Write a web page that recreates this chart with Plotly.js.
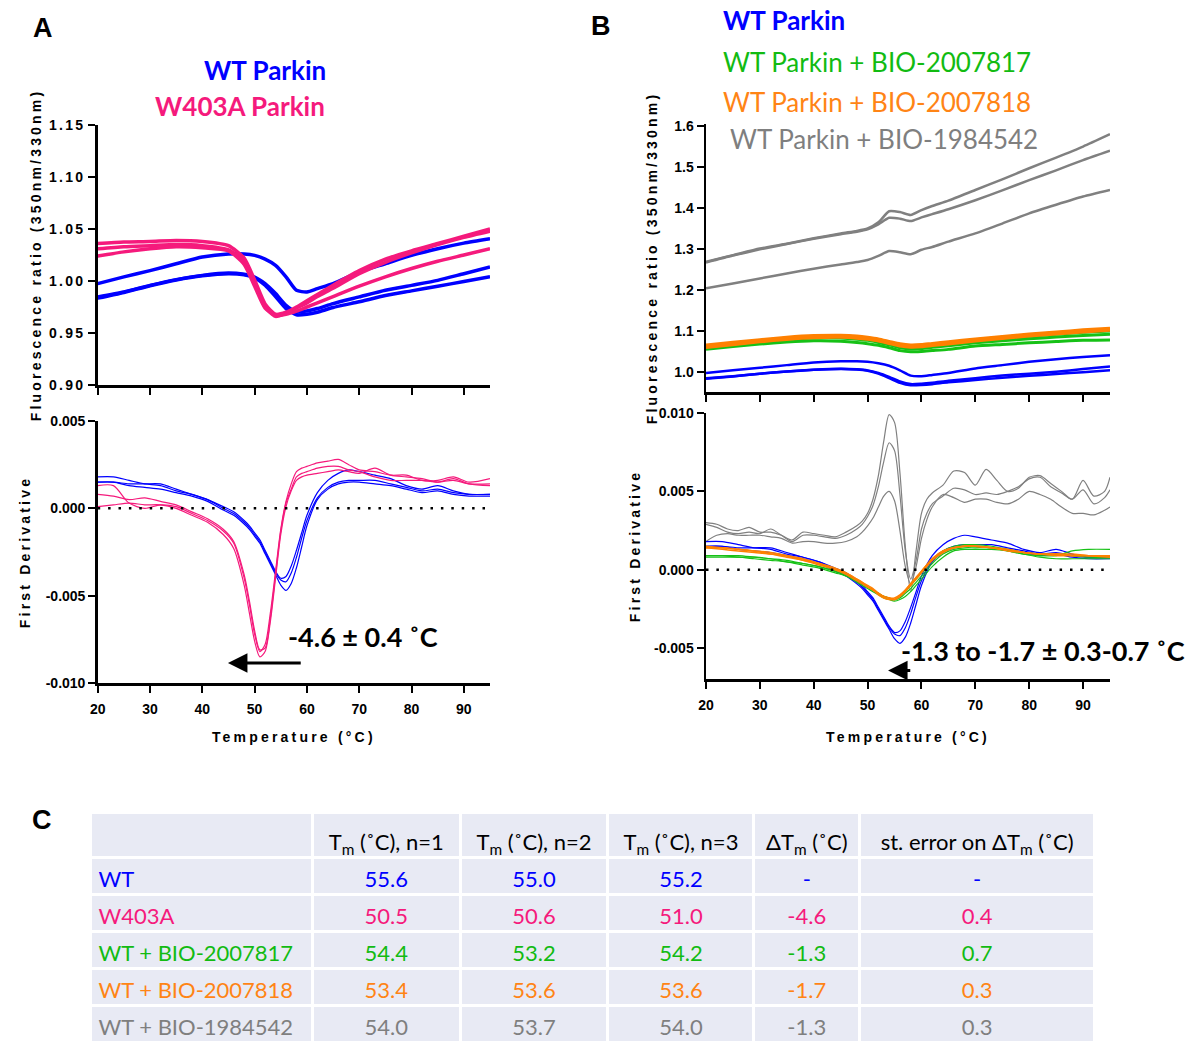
<!DOCTYPE html>
<html>
<head>
<meta charset="utf-8">
<script src="https://cdn.plot.ly/plotly-3.0.1.min.js"></script>
<style>
  html, body { margin: 0; padding: 0; background: #fff; overflow: hidden; }
  #chart { width: 1189px; height: 1042px; }
  .xtick text, .ytick text { letter-spacing: 2.3px; }
  [class^="g-x"] text, [class^="g-y"] text { letter-spacing: 3.2px; }
</style>
</head>
<body>
<div id="chart"></div>
<script>
// ---------------- DATA ----------------
// Temperature grids (°C)
const tTop  = [20,25,30,35,40,45,48,50,52,54,56,58,60,62,65,70,75,80,85,90,95];
const tDer  = [20,23,26,29,32,35,38,41,44,46,48,49,50,51,52,53,54,55,56,57,58,59,60,62,64,66,68,70,73,76,79,82,85,88,91,95];
const tGray = [20,22,24,26,28,30,32,34,36,38,40,42,44,46,48,49,50,51,52,53,54,55,56,57,58,59,60,61,62,64,66,68,70,72,74,76,78,80,82,84,86,88,90,92,94,95];

// Fluorescence ratio (350nm/330nm)
const wtRatio1 = [0.9975,1.004,1.010,1.0166,1.023,1.026,1.026,1.0246,1.021,1.015,1.004,0.991,0.9895,0.9927,0.9974,1.0086,1.0166,1.0246,1.031,1.0364,1.0406];
const wtRatio2 = [0.9847,0.9895,0.9958,1.0013,1.0054,1.0077,1.0064,1.0038,0.9974,0.9879,0.9767,0.9703,0.9712,0.9735,0.9783,0.9847,0.9911,0.9958,1.0006,1.007,1.0134];
const wtRatio3 = [0.9835,0.989,0.9955,1.001,1.005,1.007,1.006,1.003,0.996,0.985,0.9735,0.9675,0.968,0.970,0.9745,0.980,0.986,0.9905,0.995,0.9995,1.004];
const w403Ratio1 = [1.036,1.0375,1.038,1.039,1.038,1.034,1.022,1.001,0.978,0.968,0.970,0.975,0.981,0.987,0.996,1.010,1.021,1.029,1.036,1.043,1.050];
const w403Ratio2 = [1.031,1.033,1.034,1.035,1.034,1.030,1.019,0.998,0.975,0.966,0.969,0.974,0.979,0.985,0.993,1.007,1.018,1.027,1.035,1.042,1.048];
const w403Ratio3 = [1.024,1.028,1.031,1.033,1.032,1.029,1.016,0.995,0.974,0.967,0.968,0.971,0.975,0.979,0.985,0.995,1.004,1.012,1.019,1.025,1.031];
const b817Ratio1 = [1.055,1.062,1.068,1.073,1.076,1.075,1.072,1.069,1.065,1.059,1.052,1.049,1.050,1.052,1.055,1.063,1.067,1.071,1.074,1.077,1.078];
const b817Ratio2 = [1.060,1.067,1.073,1.079,1.083,1.083,1.080,1.077,1.072,1.066,1.059,1.056,1.057,1.060,1.064,1.071,1.076,1.081,1.085,1.089,1.092];
const b817Ratio3 = [1.062,1.069,1.075,1.081,1.085,1.086,1.083,1.080,1.075,1.069,1.062,1.059,1.060,1.063,1.068,1.075,1.081,1.087,1.092,1.097,1.100];
const b818Ratio1 = [1.065,1.072,1.078,1.084,1.088,1.089,1.087,1.084,1.080,1.074,1.068,1.065,1.066,1.069,1.073,1.080,1.086,1.092,1.097,1.102,1.106];
const b818Ratio2 = [1.062,1.069,1.076,1.082,1.086,1.087,1.085,1.082,1.078,1.072,1.066,1.063,1.064,1.067,1.071,1.078,1.084,1.090,1.095,1.100,1.104];
const b818Ratio3 = [1.060,1.067,1.074,1.080,1.084,1.085,1.083,1.080,1.076,1.070,1.064,1.061,1.062,1.065,1.069,1.076,1.082,1.088,1.093,1.098,1.102];
const b1984Ratio1 = [1.269,1.285,1.301,1.313,1.326,1.338,1.344,1.350,1.365,1.392,1.390,1.383,1.395,1.405,1.418,1.444,1.470,1.497,1.523,1.550,1.580];
const b1984Ratio2 = [1.267,1.284,1.299,1.312,1.325,1.336,1.342,1.348,1.360,1.376,1.374,1.368,1.377,1.385,1.397,1.419,1.443,1.468,1.492,1.517,1.540];
const b1984Ratio3 = [1.204,1.216,1.228,1.240,1.252,1.262,1.268,1.273,1.283,1.295,1.292,1.287,1.298,1.305,1.318,1.338,1.362,1.387,1.408,1.428,1.444];

// First derivative
const wtDeriv1 = [0.0018,0.0018,0.0016,0.0014,0.0013,0.0010,0.0008,0.0005,0.0001,-0.0002,-0.0007,-0.0010,-0.0014,-0.0018,-0.0024,-0.0030,-0.0036,-0.0040,-0.0039,-0.0033,-0.0024,-0.0014,-0.0004,0.0009,0.0016,0.0020,0.0022,0.0021,0.0019,0.0017,0.0013,0.0011,0.0013,0.0010,0.0008,0.0008];
const wtDeriv2 = [0.0015,0.0015,0.0014,0.0014,0.0014,0.0011,0.0008,0.0005,0.0000,-0.0003,-0.0008,-0.0011,-0.0015,-0.0019,-0.0025,-0.0031,-0.0037,-0.0041,-0.0042,-0.0037,-0.0028,-0.0017,-0.0007,0.0006,0.0012,0.0015,0.0016,0.0016,0.0016,0.0014,0.0012,0.0010,0.0011,0.0009,0.0008,0.0008];
const wtDeriv3 = [0.0015,0.0015,0.0013,0.0012,0.0011,0.0009,0.0007,0.0004,-0.0001,-0.0004,-0.0009,-0.0012,-0.0016,-0.0020,-0.0026,-0.0032,-0.0038,-0.0044,-0.0047,-0.0043,-0.0034,-0.0022,-0.0010,0.0005,0.0011,0.0014,0.0015,0.0015,0.0014,0.0013,0.0011,0.0009,0.0010,0.0008,0.0007,0.0007];
const w403Deriv1 = [0.0013,0.0013,0.0003,0.0000,0.0002,0.0001,-0.0003,-0.0007,-0.0013,-0.0020,-0.0040,-0.0055,-0.0072,-0.0082,-0.0078,-0.0060,-0.0036,-0.0012,0.0004,0.0014,0.0021,0.0023,0.0024,0.0026,0.0027,0.0028,0.0025,0.0022,0.0021,0.0019,0.0019,0.0016,0.0016,0.0018,0.0015,0.0017];
const w403Deriv2 = [0.0008,0.0007,0.0005,0.0006,0.0004,0.0002,-0.0002,-0.0006,-0.0012,-0.0019,-0.0038,-0.0053,-0.0070,-0.0081,-0.0080,-0.0063,-0.0038,-0.0013,0.0003,0.0011,0.0018,0.0020,0.0021,0.0023,0.0024,0.0024,0.0022,0.0021,0.0018,0.0016,0.0016,0.0016,0.0015,0.0016,0.0014,0.0014];
const w403Deriv3 = [0.0001,0.0002,0.0003,0.0002,0.0002,0.0000,-0.0004,-0.0008,-0.0015,-0.0023,-0.0044,-0.0060,-0.0076,-0.0085,-0.0082,-0.0065,-0.0040,-0.0015,0.0001,0.0010,0.0016,0.0018,0.0019,0.0020,0.0021,0.0022,0.0021,0.0020,0.0023,0.0019,0.0018,0.0017,0.0015,0.0017,0.0014,0.0013];
const b817Deriv1 = [0.0009,0.0009,0.0009,0.0008,0.0007,0.0006,0.0004,0.0002,-0.0001,-0.0004,-0.0007,-0.0009,-0.0011,-0.0013,-0.0015,-0.0017,-0.0018,-0.0019,-0.0018,-0.0015,-0.0012,-0.0008,-0.0004,0.0004,0.0010,0.0013,0.0014,0.0014,0.0014,0.0012,0.0010,0.0009,0.0009,0.0012,0.0013,0.0013];
const b817Deriv2 = [0.0008,0.0008,0.0008,0.0007,0.0006,0.0005,0.0003,0.0001,-0.0002,-0.0004,-0.0008,-0.0010,-0.0012,-0.0014,-0.0016,-0.0018,-0.0019,-0.0020,-0.0019,-0.0017,-0.0014,-0.0010,-0.0006,0.0002,0.0008,0.0012,0.0013,0.0013,0.0013,0.0012,0.0010,0.0008,0.0007,0.0007,0.0007,0.0007];
const b817Deriv3 = [0.0009,0.0009,0.0008,0.0008,0.0007,0.0005,0.0004,0.0002,-0.0001,-0.0003,-0.0007,-0.0009,-0.0011,-0.0013,-0.0015,-0.0017,-0.0018,-0.0019,-0.0017,-0.0014,-0.0010,-0.0006,-0.0002,0.0006,0.0012,0.0015,0.0016,0.0016,0.0015,0.0013,0.0011,0.0010,0.0010,0.0009,0.0008,0.0008];
const b818Deriv1 = [0.0015,0.0014,0.0013,0.0012,0.0011,0.0009,0.0007,0.0004,0.0001,-0.0002,-0.0006,-0.0008,-0.0010,-0.0012,-0.0015,-0.0017,-0.0018,-0.0018,-0.0016,-0.0013,-0.0009,-0.0005,-0.0001,0.0007,0.0012,0.0014,0.0015,0.0015,0.0014,0.0013,0.0011,0.0010,0.0010,0.0010,0.0009,0.0009];
const b818Deriv2 = [0.0014,0.0014,0.0013,0.0012,0.0010,0.0009,0.0006,0.0004,0.0000,-0.0002,-0.0006,-0.0008,-0.0011,-0.0013,-0.0015,-0.0017,-0.0018,-0.0019,-0.0017,-0.0014,-0.0010,-0.0006,-0.0002,0.0006,0.0011,0.0014,0.0015,0.0015,0.0014,0.0013,0.0011,0.0010,0.0009,0.0009,0.0009,0.0008];
const b818Deriv3 = [0.0014,0.0013,0.0012,0.0011,0.0010,0.0008,0.0006,0.0003,0.0000,-0.0003,-0.0007,-0.0009,-0.0011,-0.0013,-0.0016,-0.0018,-0.0019,-0.0019,-0.0017,-0.0013,-0.0009,-0.0005,-0.0001,0.0007,0.0012,0.0014,0.0015,0.0015,0.0014,0.0012,0.0011,0.0010,0.0010,0.0009,0.0009,0.0009];
const b1984Deriv1 = [0.0030,0.0029,0.0026,0.0025,0.0027,0.0024,0.0024,0.0022,0.0019,0.0024,0.0023,0.0022,0.0021,0.0024,0.0028,0.0031,0.0036,0.0045,0.0060,0.0082,0.0099,0.0094,0.0062,0.0015,-0.0014,0.0012,0.0036,0.0045,0.0049,0.0054,0.0063,0.0062,0.0054,0.0064,0.0057,0.0050,0.0052,0.0059,0.0060,0.0055,0.0050,0.0045,0.0057,0.0047,0.0050,0.0059];
const b1984Deriv2 = [0.0029,0.0027,0.0024,0.0023,0.0024,0.0023,0.0026,0.0022,0.0018,0.0022,0.0022,0.0021,0.0020,0.0022,0.0026,0.0029,0.0034,0.0041,0.0053,0.0069,0.0081,0.0076,0.0048,0.0012,-0.0006,0.0006,0.0026,0.0036,0.0042,0.0047,0.0052,0.0051,0.0048,0.0049,0.0048,0.0050,0.0053,0.0058,0.0059,0.0053,0.0049,0.0045,0.0051,0.0042,0.0046,0.0051];
const b1984Deriv3 = [0.0018,0.0022,0.0023,0.0022,0.0022,0.0022,0.0021,0.0020,0.0017,0.0018,0.0018,0.0017,0.0017,0.0018,0.0021,0.0024,0.0028,0.0033,0.0040,0.0047,0.0050,0.0044,0.0025,0.0002,-0.0009,0.0002,0.0020,0.0032,0.0040,0.0048,0.0046,0.0043,0.0045,0.0045,0.0043,0.0042,0.0045,0.0050,0.0048,0.0045,0.0040,0.0036,0.0036,0.0035,0.0038,0.0040];

// Axis ticks
const xTicks = [20,30,40,50,60,70,80,90];
const aRatioTicks = [0.90,0.95,1.00,1.05,1.10,1.15];
const bRatioTicks = [1.0,1.1,1.2,1.3,1.4,1.5,1.6];
const aDerivTicks = [-0.010,-0.005,0.000,0.005];
const aDerivLabels = ["-0.010","-0.005","0.000","0.005"];
const bDerivTicks = [-0.005,0.000,0.005,0.010];
const bDerivLabels = ["-0.005","0.000","0.005","0.010"];
const zeroLevel = 0;

// Table (panel C)
const tableHeader = ["", "T<sub>m</sub> (˚C), n=1", "T<sub>m</sub> (˚C), n=2", "T<sub>m</sub> (˚C), n=3", "ΔT<sub>m</sub> (˚C)", "st. error on ΔT<sub>m</sub> (˚C)"];
const sampleNames = ["WT", "W403A", "WT + BIO-2007817", "WT + BIO-2007818", "WT + BIO-1984542"];
const tmRun1 = ["55.6", "50.5", "54.4", "53.4", "54.0"];
const tmRun2 = ["55.0", "50.6", "53.2", "53.6", "53.7"];
const tmRun3 = ["55.2", "51.0", "54.2", "53.6", "54.0"];
const deltaTm = ["-", "-4.6", "-1.3", "-1.7", "-1.3"];
const seDeltaTm = ["-", "0.4", "0.7", "0.3", "0.3"];

// ---------------- STYLE ----------------
const BLUE = "#0000FF", PINK = "#F51A7C", GREEN = "#16C116", ORANGE = "#FF8000", GRAY = "#808080";
const TXT_GREEN = "#12BB12", TXT_ORANGE = "#FF8415", TXT_GRAY = "#7F7F7F";
const rowColors = [BLUE, PINK, TXT_GREEN, TXT_ORANGE, TXT_GRAY];
const W = 1189, H = 1042;
const px = v => v / W, py = v => 1 - v / H;

function line(x, y, color, width, xa, ya, smooth) {
  return { type: "scatter", mode: "lines", x: x, y: y, xaxis: xa, yaxis: ya,
    line: { color: color, width: width, shape: "spline", smoothing: smooth },
    hoverinfo: "skip", showlegend: false };
}

const traces = [
  // Panel A top
  line(tTop, wtRatio1, BLUE, 3.5, "x", "y", 0.6),
  line(tTop, wtRatio2, BLUE, 3.5, "x", "y", 0.6),
  line(tTop, wtRatio3, BLUE, 3.5, "x", "y", 0.6),
  line(tTop, w403Ratio1, PINK, 3.5, "x", "y", 0.6),
  line(tTop, w403Ratio2, PINK, 3.5, "x", "y", 0.6),
  line(tTop, w403Ratio3, PINK, 3.5, "x", "y", 0.6),
  // Panel A bottom
  line(tDer, wtDeriv1, BLUE, 1.2, "x2", "y2", 0.8),
  line(tDer, wtDeriv2, BLUE, 1.2, "x2", "y2", 0.8),
  line(tDer, wtDeriv3, BLUE, 1.2, "x2", "y2", 0.8),
  line(tDer, w403Deriv1, PINK, 1.2, "x2", "y2", 0.8),
  line(tDer, w403Deriv2, PINK, 1.2, "x2", "y2", 0.8),
  line(tDer, w403Deriv3, PINK, 1.2, "x2", "y2", 0.8),
  // Panel B top
  line(tTop, b1984Ratio1, GRAY, 2.5, "x3", "y3", 0.6),
  line(tTop, b1984Ratio2, GRAY, 2.5, "x3", "y3", 0.6),
  line(tTop, b1984Ratio3, GRAY, 2.5, "x3", "y3", 0.6),
  line(tTop, wtRatio1, BLUE, 2.5, "x3", "y3", 0.6),
  line(tTop, wtRatio2, BLUE, 2.5, "x3", "y3", 0.6),
  line(tTop, wtRatio3, BLUE, 2.5, "x3", "y3", 0.6),
  line(tTop, b817Ratio1, GREEN, 3, "x3", "y3", 0.6),
  line(tTop, b817Ratio2, GREEN, 3, "x3", "y3", 0.6),
  line(tTop, b817Ratio3, GREEN, 3, "x3", "y3", 0.6),
  line(tTop, b818Ratio1, ORANGE, 3.5, "x3", "y3", 0.6),
  line(tTop, b818Ratio2, ORANGE, 3.5, "x3", "y3", 0.6),
  line(tTop, b818Ratio3, ORANGE, 3.5, "x3", "y3", 0.6),
  // Panel B bottom
  line(tGray, b1984Deriv1, GRAY, 1.2, "x4", "y4", 0.8),
  line(tGray, b1984Deriv2, GRAY, 1.2, "x4", "y4", 0.8),
  line(tGray, b1984Deriv3, GRAY, 1.2, "x4", "y4", 0.8),
  line(tDer, wtDeriv1, BLUE, 1.2, "x4", "y4", 0.8),
  line(tDer, wtDeriv2, BLUE, 1.2, "x4", "y4", 0.8),
  line(tDer, wtDeriv3, BLUE, 1.2, "x4", "y4", 0.8),
  line(tDer, b817Deriv1, GREEN, 1.2, "x4", "y4", 0.8),
  line(tDer, b817Deriv2, GREEN, 1.2, "x4", "y4", 0.8),
  line(tDer, b817Deriv3, GREEN, 1.2, "x4", "y4", 0.8),
  line(tDer, b818Deriv1, ORANGE, 1.5, "x4", "y4", 0.8),
  line(tDer, b818Deriv2, ORANGE, 1.5, "x4", "y4", 0.8),
  line(tDer, b818Deriv3, ORANGE, 1.5, "x4", "y4", 0.8),
  // Panel C table
  {
    type: "table",
    domain: { x: [px(90.5), px(1095)], y: [0, py(812)] },
    columnwidth: [222, 148, 148, 146, 106, 235],
    header: {
      values: tableHeader,
      align: ["left", "center", "center", "center", "center", "center"],
      height: 44,
      fill: { color: "#E8EAF4" },
      line: { color: "#FFFFFF", width: 3 },
      font: { family: "Lato, 'Open Sans', sans-serif", size: 22, color: "#000000" }
    },
    cells: {
      values: [sampleNames, tmRun1, tmRun2, tmRun3, deltaTm, seDeltaTm],
      align: ["left", "center", "center", "center", "center", "center"],
      height: 37,
      fill: { color: "#E8EAF4" },
      line: { color: "#FFFFFF", width: 3 },
      font: { family: "Lato, 'Open Sans', sans-serif", size: 22,
              color: [rowColors, rowColors, rowColors, rowColors, rowColors, rowColors] }
    }
  }
];

const tickFont = { family: "'Liberation Sans', Arial, sans-serif", size: 14, color: "#000", weight: 700 };
const titleFont = { family: "'Liberation Sans', Arial, sans-serif", size: 14, color: "#000", weight: 700 };
function axisBase(extra) {
  return Object.assign({
    showgrid: false, zeroline: false, showline: true, linecolor: "#000", linewidth: 2.5,
    ticks: "outside", ticklen: 7, tickwidth: 2, tickcolor: "#000", tickfont: tickFont,
    fixedrange: true
  }, extra);
}

const layout = {
  width: W, height: H,
  margin: { l: 0, r: 0, t: 0, b: 0, pad: 0 },
  paper_bgcolor: "#FFFFFF", plot_bgcolor: "rgba(0,0,0,0)",
  showlegend: false,
  xaxis: axisBase({ domain: [px(97.7), px(490)], range: [20, 95], tickvals: xTicks, showticklabels: false, anchor: "y" }),
  yaxis: axisBase({ domain: [py(385), py(125)], range: [0.90, 1.15], tickvals: aRatioTicks, tickformat: ".2f", anchor: "x",
    title: { text: "Fluorescence ratio (350nm/330nm)", font: titleFont, standoff: 4 } }),
  xaxis2: axisBase({ domain: [px(97.7), px(490)], range: [20, 95], tickvals: xTicks, anchor: "y2", ticklabelstandoff: 5,
    title: { text: "Temperature (°C)", font: titleFont, standoff: 16 } }),
  yaxis2: axisBase({ domain: [py(683), py(421)], range: [-0.010, 0.005], tickvals: aDerivTicks, ticktext: aDerivLabels, anchor: "x2",
    title: { text: "First Derivative", font: titleFont, standoff: 12 } }),
  xaxis3: axisBase({ domain: [px(706), px(1110)], range: [20, 95], tickvals: xTicks, showticklabels: false, anchor: "y3" }),
  yaxis3: axisBase({ domain: [py(392), py(124)], range: [0.951, 1.605], tickvals: bRatioTicks, tickformat: ".1f", anchor: "x3",
    title: { text: "Fluorescence ratio (350nm/330nm)", font: titleFont, standoff: 14 } }),
  xaxis4: axisBase({ domain: [px(706), px(1110)], range: [20, 95], tickvals: xTicks, anchor: "y4", ticklabelstandoff: 5,
    title: { text: "Temperature (°C)", font: titleFont, standoff: 20 } }),
  yaxis4: axisBase({ domain: [py(679), py(413)], range: [-0.00697, 0.010], tickvals: bDerivTicks, ticktext: bDerivLabels, anchor: "x4",
    title: { text: "First Derivative", font: titleFont, standoff: 10 } }),
  shapes: [
    { type: "line", xref: "x2", yref: "y2", x0: 20, x1: 95, y0: zeroLevel, y1: zeroLevel,
      line: { color: "#000", width: 2.5, dash: "2.5px,7.9px" } },
    { type: "line", xref: "x4", yref: "y4", x0: 20, x1: 95, y0: zeroLevel, y1: zeroLevel,
      line: { color: "#000", width: 2.5, dash: "2.5px,7.9px" } }
  ],
  annotations: []
};

const A = layout.annotations;
const letterFont = { family: "'Liberation Sans', Arial, sans-serif", size: 27, color: "#000", weight: 700 };
function note(text, x, y, font, xanchor) {
  A.push({ text: text, xref: "paper", yref: "paper", x: px(x), y: py(y), xanchor: xanchor || "center",
    yanchor: "middle", showarrow: false, font: font });
}
note("A", 43, 28, letterFont);
note("B", 601, 26, letterFont);
note("C", 42, 820, letterFont);

const lbl = (c, w) => ({ family: "Lato, 'Open Sans', sans-serif", size: 26, color: c, weight: w || 400 });
note("WT Parkin", 265, 70, lbl(BLUE, 700));
note("W403A Parkin", 240, 106, lbl(PINK, 700));
note("WT Parkin", 721, 20, lbl(BLUE, 700), "left");
note("WT Parkin + BIO-2007817", 721, 62, lbl(TXT_GREEN), "left");
note("WT Parkin + BIO-2007818", 721, 102, lbl(TXT_ORANGE), "left");
note("WT Parkin + BIO-1984542", 728, 139, lbl(TXT_GRAY), "left");

const bigFont = { family: "Lato, 'Open Sans', sans-serif", size: 27, color: "#000", weight: 700 };
note("-4.6 ± 0.4 ˚C", 286, 636, bigFont, "left");
note("-1.3 to -1.7 ± 0.3-0.7 ˚C", 899, 650, bigFont, "left");

// Shift arrows
A.push({ xref: "x2", yref: "y2", axref: "x2", ayref: "y2", x: 44.9, y: -0.00886, ax: 59.1, ay: -0.00886,
  text: "", showarrow: true, arrowhead: 2, arrowsize: 1.3, arrowwidth: 3, arrowcolor: "#000" });
A.push({ xref: "x4", yref: "y4", axref: "x4", ayref: "y4", x: 53.8, y: -0.00642, ax: 58.2, ay: -0.00642,
  text: "", showarrow: true, arrowhead: 2, arrowsize: 1.3, arrowwidth: 3, arrowcolor: "#000" });

Plotly.newPlot("chart", traces, layout, { displayModeBar: false, staticPlot: true }).then(function (gd) {
  // Lower the table texts a little, as in the reference (header text sits near the bottom of its row)
  var top = gd.getBoundingClientRect().top;
  gd.querySelectorAll(".cell-text").forEach(function (t) {
    var r = t.getBoundingClientRect();
    if (!r.height) return;
    var mid = r.top - top + r.height / 2;
    var shift = mid < 860 ? 8 : 5;
    var tr = t.getAttribute("transform") || "";
    t.setAttribute("transform", tr + " translate(0," + shift + ")");
  });
});
</script>
</body>
</html>
